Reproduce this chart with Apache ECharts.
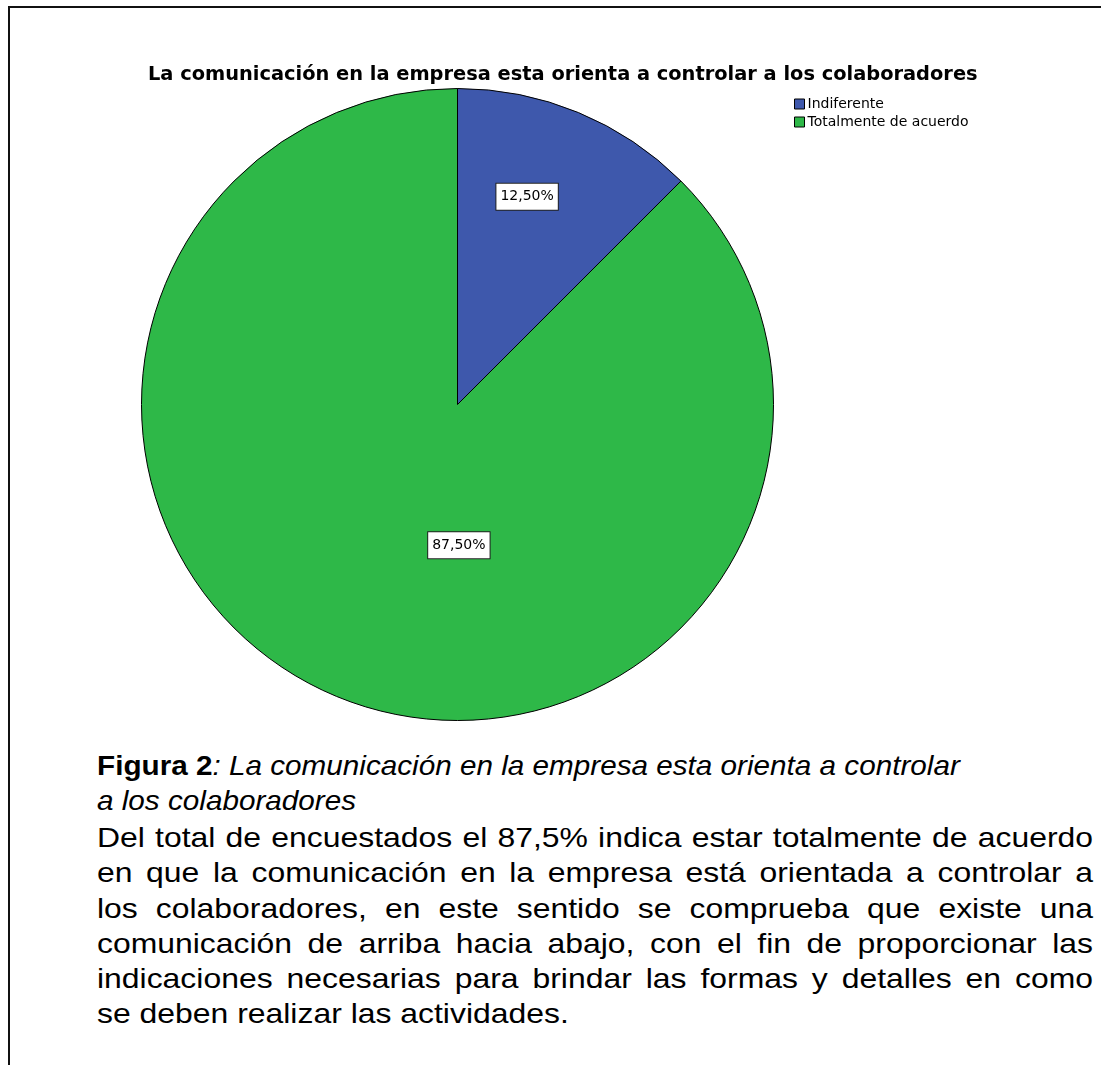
<!DOCTYPE html>
<html>
<head>
<meta charset="utf-8">
<script src="https://cdn.jsdelivr.net/npm/echarts@6/dist/echarts.min.js"></script>
<style>
  html, body { margin: 0; padding: 0; background: #fff; }
  #wrap { position: relative; width: 1101px; height: 1065px; overflow: hidden; }
  #frame { position: absolute; left: 8px; top: 6px; width: 1200px; height: 1200px;
           border-top: 2px solid #111; border-left: 2px solid #111; }
  #chart { position: absolute; left: 0; top: 0; width: 1101px; height: 740px; }
  .cap { position: absolute; left: 97px; font-family: "Liberation Sans", Arial, sans-serif;
         font-size: 28px; line-height: 35.3px; color: #000; transform-origin: 0 0; }
  #capFig { top: 748px; width: 940px; transform: scaleX(1.06); }
  #capBody { top: 820px; width: 874px; transform: scaleX(1.1396); }
  .ln { text-align: justify; text-align-last: justify; white-space: nowrap; }
  .last { text-align: left; text-align-last: left; }
</style>
</head>
<body>
<div id="wrap">
  <div id="frame"></div>
  <div id="chart"></div>
  <div id="capFig" class="cap">
    <div class="ln last"><b>Figura 2</b><i>: La comunicación en la empresa esta orienta a controlar</i></div>
    <div class="ln last"><i>a los colaboradores</i></div>
  </div>
  <div id="capBody" class="cap">
    <div class="ln">Del total de encuestados el 87,5% indica estar totalmente de acuerdo</div>
    <div class="ln">en que la comunicación en la empresa está orientada a controlar a</div>
    <div class="ln">los colaboradores, en este sentido se comprueba que existe una</div>
    <div class="ln">comunicación de arriba hacia abajo, con el fin de proporcionar las</div>
    <div class="ln">indicaciones necesarias para brindar las formas y detalles en como</div>
    <div class="ln last">se deben realizar las actividades.</div>
  </div>
</div>
<script>
const chartTitle = "La comunicación en la empresa esta orienta a controlar a los colaboradores";
const categories = ["Indiferente", "Totalmente de acuerdo"];
const values = [12.5, 87.5];
const labelTexts = ["12,50%", "87,50%"];
const colors = ["#3E58AC", "#2EB848"];
const labelOffsets = [[8, -59], [63, -8]];

const chart = echarts.init(document.getElementById('chart'), null, { renderer: 'canvas' });
const data = categories.map((c, i) => ({
  name: c,
  value: values[i],
  itemStyle: { color: colors[i] },
  label: { formatter: labelTexts[i], offset: labelOffsets[i] }
}));

chart.setOption({
  animation: false,
  title: {
    text: chartTitle,
    left: 143,
    top: 60,
    textStyle: { fontFamily: "DejaVu Sans", fontWeight: "bold", fontSize: 19.4, color: "#000" }
  },
  legend: {
    orient: 'vertical',
    left: 789,
    top: 92,
    itemWidth: 10,
    itemHeight: 10,
    itemGap: 4,
    icon: 'rect',
    selectedMode: false,
    data: categories,
    itemStyle: { borderColor: '#000', borderWidth: 1 },
    textStyle: { fontFamily: "DejaVu Sans", fontSize: 14, color: "#000", padding: [0, 0, 0, -2] }
  },
  series: [{
    type: 'pie',
    center: [457.5, 404.5],
    radius: 316,
    startAngle: 90,
    clockwise: true,
    silent: true,
    itemStyle: { borderColor: '#000', borderWidth: 1 },
    label: {
      show: true,
      position: 'inside',
      fontFamily: "DejaVu Sans",
      fontSize: 14,
      color: '#000',
      backgroundColor: '#fff',
      borderColor: '#222',
      borderWidth: 1,
      padding: [6, 4, 6, 4]
    },
    labelLine: { show: false },
    data: data
  }]
});
</script>
</body>
</html>
